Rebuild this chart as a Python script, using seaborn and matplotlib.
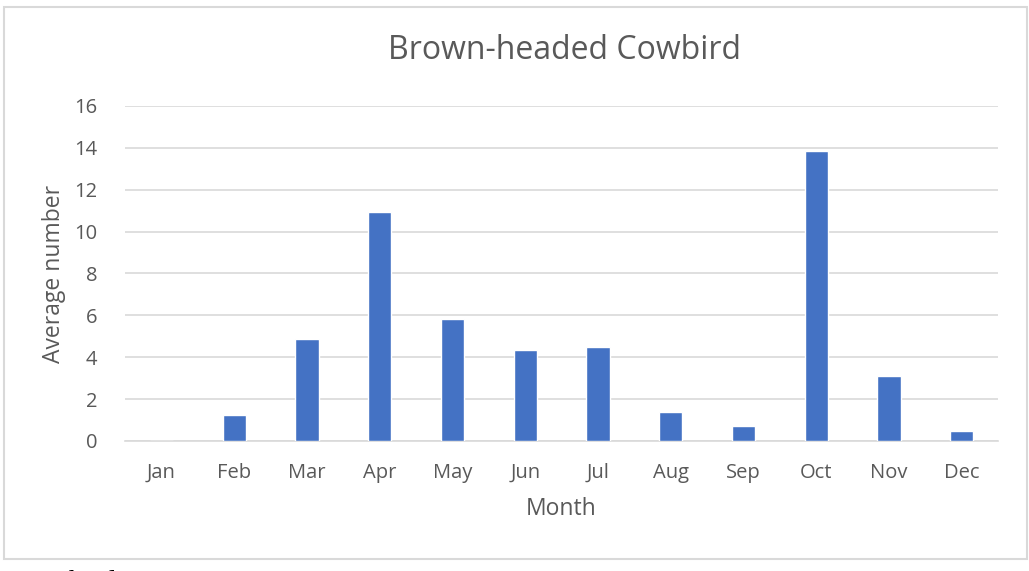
import matplotlib
matplotlib.use("Agg")
import matplotlib.pyplot as plt
import matplotlib.patches as mpatches
import pandas as pd
import seaborn as sns

# data
months = ["Jan", "Feb", "Mar", "Apr", "May", "Jun",
          "Jul", "Aug", "Sep", "Oct", "Nov", "Dec"]
avg_number = [0, 1.24, 4.87, 10.95, 5.83, 4.35,
              4.49, 1.38, 0.73, 13.87, 3.12, 0.46]
y_ticks = [0, 2, 4, 6, 8, 10, 12, 14, 16]

df = pd.DataFrame({"Month": months, "Average number": avg_number})

sns.set_theme(style="white")
plt.rcParams["font.family"] = ["Open Sans", "DejaVu Sans"]

fig = plt.figure(figsize=(10.29, 5.71), dpi=100)
ax = fig.add_axes([0.1215, 0.2277, 0.8485, 0.5867])

sns.barplot(data=df, x="Month", y="Average number", color="#4472C4",
            width=0.32, saturation=1, ax=ax, zorder=3)

ax.set_ylim(0, 16)
ax.set_yticks(y_ticks)
ax.set_xlim(-0.5, 11.5)
ax.grid(axis="y", color="#d9d9d9", linewidth=1.2, zorder=0)
for s in ["top", "right", "left"]:
    ax.spines[s].set_visible(False)
ax.spines["bottom"].set_color("#d9d9d9")
ax.spines["bottom"].set_linewidth(1.2)
ax.tick_params(axis="both", length=0, labelsize=14.5, labelcolor="#595959")
ax.tick_params(axis="x", pad=16)
ax.tick_params(axis="y", pad=20)

ax.set_xlabel("Month", fontsize=16.5, color="#595959", labelpad=10)
ax.set_ylabel("Average number", fontsize=16.5, color="#595959", labelpad=6)
fig.text(0.549, 0.912, "Brown-headed Cowbird", ha="center", va="center",
         fontsize=23, color="#595959")

# chart border
fig.patches.append(mpatches.Rectangle((0.004, 0.021), 0.994, 0.967,
                                      transform=fig.transFigure, fill=False,
                                      edgecolor="#d9d9d9", linewidth=1.5))

# cut-off caption below the chart
fig.text(0.014, -0.0335, "Cowbird     175", fontsize=21, family="Liberation Serif",
         color="black", va="baseline")

fig.savefig("out.png", dpi=100)
